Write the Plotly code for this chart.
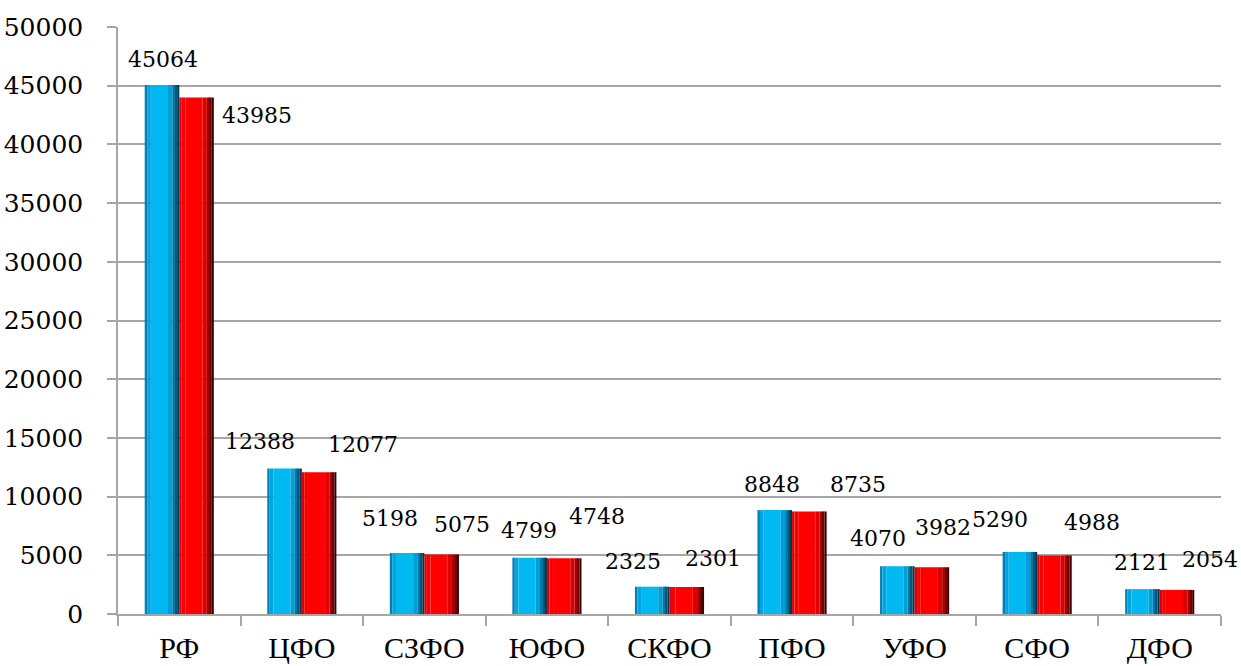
import plotly.graph_objects as go

categories = ["РФ", "ЦФО", "СЗФО", "ЮФО", "СКФО", "ПФО", "УФО", "СФО", "ДФО"]
series_a = [45064, 12388, 5198, 4799, 2325, 8848, 4070, 5290, 2121]
series_b = [43985, 12077, 5075, 4748, 2301, 8735, 3982, 4988, 2054]
y_ticks = [0, 5000, 10000, 15000, 20000, 25000, 30000, 35000, 40000, 45000, 50000]

# label offsets in pixels relative to (category centre, value)
label_dx_a = [-16, -42, -34, -18, -37, -20, -37, -37, -18]
label_dy_a = [25, 27, 34, 27, 25, 26, 28, 32, 27]
label_dx_b = [78, 61, 38, 50, 43, 66, 28, 55, 50]
label_dy_b = [-18, 28, 30, 42, 28, 27, 40, 33, 30]

FONT_NUM = "DejaVu Serif"
FONT_CAT = "serif"
BW = 0.282  # bar width in category units

fig = go.Figure()

def add_bar(values, offset, width, color):
    fig.add_trace(go.Bar(
        x=categories, y=values, offset=offset, width=width,
        marker=dict(color=color, line=dict(width=0)),
        showlegend=False, hoverinfo="skip",
    ))

blue_shades = [
    (0.0, 0.02, "#0080B4"),
    (0.02, 0.05, "#00A4DE"),
    (0.05, 0.19, "#00B8F2"),
    (0.19, 0.225, "#009ED6"),
    (0.225, 0.25, "#0078A8"),
    (0.25, 0.265, "#00557A"),
    (0.265, BW, "#003550"),
]
for a, b, c in blue_shades:
    add_bar(series_a, -BW + a, b - a, c)

red_shades = [
    (0.0, 0.02, "#D80000"),
    (0.02, 0.05, "#F40000"),
    (0.05, 0.19, "#FF0000"),
    (0.19, 0.225, "#DC0000"),
    (0.225, 0.25, "#A80000"),
    (0.25, 0.265, "#700000"),
    (0.265, BW, "#3C0000"),
]
for a, b, c in red_shades:
    add_bar(series_b, a, b - a, c)

annotations = []
for i, cat in enumerate(categories):
    annotations.append(dict(
        x=cat, y=series_a[i], xref="x", yref="y", text=str(series_a[i]),
        showarrow=False, xshift=label_dx_a[i], yshift=label_dy_a[i],
        font=dict(family=FONT_NUM, size=22, color="#000000"),
    ))
    annotations.append(dict(
        x=cat, y=series_b[i], xref="x", yref="y", text=str(series_b[i]),
        showarrow=False, xshift=label_dx_b[i], yshift=label_dy_b[i],
        font=dict(family=FONT_NUM, size=22, color="#000000"),
    ))

fig.update_layout(
    width=1241, height=666,
    margin=dict(l=118, r=20, t=27, b=52),
    barmode="overlay",
    paper_bgcolor="white", plot_bgcolor="white",
    font=dict(family=FONT_NUM, color="#000000"),
    annotations=annotations,
    xaxis=dict(
        type="category", categoryorder="array", categoryarray=categories,
        showline=True, linecolor="#A6A6A6", linewidth=1.5,
        ticks="outside", tickson="boundaries", ticklen=10, tickcolor="#A6A6A6", tickwidth=1.5,
        tickfont=dict(family=FONT_CAT, size=30, color="#000000"),
        ticklabelstandoff=6,
        showgrid=False, range=[-0.5, 8.5], automargin=False,
    ),
    yaxis=dict(
        range=[0, 50000], tickvals=y_ticks, ticktext=[str(v) for v in y_ticks],
        showgrid=True, gridcolor="#A6A6A6", gridwidth=1.5,
        showline=True, linecolor="#A6A6A6", linewidth=1.5,
        ticks="outside", ticklen=9, tickcolor="#A6A6A6", tickwidth=1.5,
        tickfont=dict(family=FONT_NUM, size=25, color="#000000"),
        ticklabelstandoff=19, zeroline=False, automargin=False,
    ),
)

fig.write_html(
    "out.html",
    config={"displayModeBar": False},
    post_script="document.body.style.margin='0';document.body.style.overflow='hidden';",
)
